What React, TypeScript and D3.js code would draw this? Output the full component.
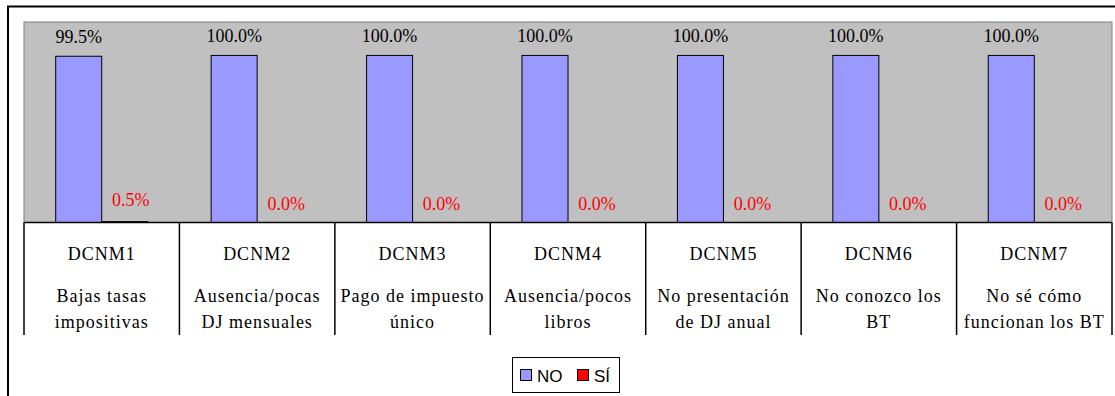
import React from "react";
import * as d3 from "d3";

const categories = ["DCNM1", "DCNM2", "DCNM3", "DCNM4", "DCNM5", "DCNM6", "DCNM7"];
const descriptions: string[][] = [
  ["Bajas tasas", "impositivas"],
  ["Ausencia/pocas", "DJ mensuales"],
  ["Pago de impuesto", "único"],
  ["Ausencia/pocos", "libros"],
  ["No presentación", "de DJ anual"],
  ["No conozco los", "BT"],
  ["No sé cómo", "funcionan los BT"],
];
const noValues = [0.995, 1.0, 1.0, 1.0, 1.0, 1.0, 1.0];
const siValues = [0.005, 0.0, 0.0, 0.0, 0.0, 0.0, 0.0];
const seriesNames = ["NO", "SÍ"];
const seriesColors = ["#9999FF", "#FF0000"];
const yMax = 1.2;

export default function App() {
  const W = 1115;
  const H = 396;
  const plotL = 24;
  const plotR = 1112;
  const plotT = 22;
  const plotB = 222.5;
  const sepBottom = 335;

  const x = d3.scaleBand<string>().domain(categories).range([plotL, plotR]).paddingInner(0).paddingOuter(0);
  const xs = d3.scaleBand<string>().domain(seriesNames).range([0, x.bandwidth()]).paddingInner(0).paddingOuter(0.689);
  const y = d3.scaleLinear().domain([0, yMax]).range([plotB, plotT]);
  const fmt = d3.format(".1%");
  const serif = "'Liberation Serif', 'Times New Roman', serif";
  const sans = "'Liberation Sans', Arial, sans-serif";

  const boundaries = [...categories.map((c) => x(c)!), plotR];

  return (
    <svg width={W} height={H} style={{ position: "absolute", left: 0, top: 0, background: "#fff" }}>
      <rect x={8} y={6.5} width={1120} height={400} fill="#fff" stroke="#000" strokeWidth={2} />
      <rect x={plotL} y={plotT} width={plotR - plotL} height={plotB - plotT} fill="#C0C0C0" stroke="#808080" strokeWidth={1} />
      {categories.map((c, i) => {
        const x0 = x(c)!;
        const vals = [noValues[i], siValues[i]];
        return (
          <g key={c}>
            {vals.map((v, j) => {
              const bx = x0 + xs(seriesNames[j])!;
              const by = y(v);
              return (
                <rect key={j} x={bx} y={by} width={xs.bandwidth()} height={plotB - by}
                  fill={seriesColors[j]} stroke="#000" strokeWidth={1} />
              );
            })}
            <text x={x0 + xs("NO")! + xs.bandwidth() / 2} y={y(noValues[i]) - 13.5} textAnchor="middle"
              fontFamily={serif} fontSize={18} fill="#000">{fmt(noValues[i])}</text>
            <text x={x0 + xs("SÍ")! + xs.bandwidth() / 2 + 6} y={y(siValues[i]) - (siValues[i] > 0 ? 16 : 12.5)} textAnchor="middle"
              fontFamily={serif} fontSize={18} fill="#FF0000">{fmt(siValues[i])}</text>
            <text x={x0 + x.bandwidth() / 2} y={260} textAnchor="middle" fontFamily={serif} fontSize={18}
              letterSpacing={1} fill="#000">{c}</text>
            {descriptions[i].map((line, k) => (
              <text key={k} x={x0 + x.bandwidth() / 2} y={302 + k * 25.5} textAnchor="middle" fontFamily={serif}
                fontSize={18} letterSpacing={1} fill="#000">{line}</text>
            ))}
          </g>
        );
      })}
      <line x1={plotL} x2={plotR} y1={plotB} y2={plotB} stroke="#000" strokeWidth={1.5} />
      {boundaries.map((bx, i) => (
        <line key={i} x1={bx} x2={bx} y1={plotB} y2={sepBottom} stroke="#000" strokeWidth={1.5} />
      ))}
      <g>
        <rect x={512.5} y={357.5} width={107} height={35} fill="#fff" stroke="#000" strokeWidth={1} />
        {seriesNames.map((s, i) => {
          const lx = i === 0 ? 520 : 577;
          return (
            <g key={s}>
              <rect x={lx + 0.5} y={369.5} width={11} height={11} fill={seriesColors[i]} stroke="#000" strokeWidth={1} />
              <text x={lx + 17} y={382} fontFamily={sans} fontSize={17} fill="#000">{s}</text>
            </g>
          );
        })}
      </g>
    </svg>
  );
}
